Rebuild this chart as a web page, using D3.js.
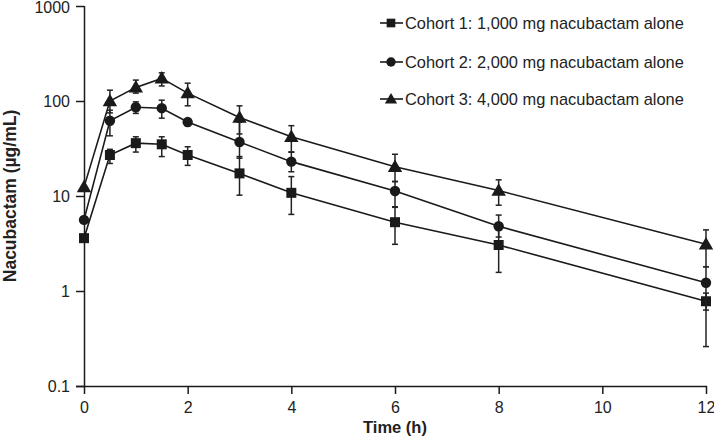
<!DOCTYPE html>
<html><head><meta charset="utf-8">
<script src="https://cdn.jsdelivr.net/npm/d3@7"></script>
<style>body{margin:0;background:#fff}svg{display:block;font-family:"Liberation Sans",Arial,Helvetica,sans-serif}</style>
</head><body><svg id="c" width="714" height="438"></svg>
<script>
const times = [0, 0.5, 1, 1.5, 2, 3, 4, 6, 8, 12];
const seriesNames = ["Cohort 1: 1,000 mg nacubactam alone", "Cohort 2: 2,000 mg nacubactam alone", "Cohort 3: 4,000 mg nacubactam alone"];
const cohort1 = [3.6, 27, 36, 35, 27, 17.3, 10.8, 5.3, 3.05, 0.78];
const cohort1Lo = [3.6, 22, 29, 26, 21, 10.2, 6.4, 3.1, 1.57, 0.26];
const cohort1Hi = [3.6, 31, 42, 42, 33, 26, 16, 7.6, 4.4, 0.95];
const cohort2 = [5.6, 62, 86, 84, 60, 37, 23, 11.3, 4.8, 1.22];
const cohort2Lo = [5.6, 43, 74, 66, 55, 25, 18, 7.7, 3.7, 0.63];
const cohort2Hi = [5.6, 80, 98, 102, 65, 60, 29, 14.2, 6.3, 1.8];
const cohort3 = [12.4, 100, 139, 173, 121, 67, 42, 20.3, 11.4, 3.1];
const cohort3Lo = [12.4, 75, 121, 144, 89, 45, 29, 14.2, 8.0, 1.8];
const cohort3Hi = [12.4, 130, 166, 198, 154, 89, 55, 27.5, 14.8, 4.4];
const xTicks = [0, 2, 4, 6, 8, 10, 12];
const yTicks = [0.1, 1, 10, 100, 1000];
const yTickLabels = ["0.1", "1", "10", "100", "1000"];
const symbols = [d3.symbolSquare, d3.symbolCircle, d3.symbolTriangle];

const svg = d3.select("#c");
const x = d3.scaleLinear().domain([0, 12]).range([84, 706]);
const y = d3.scaleLog().domain([0.1, 1000]).range([386, 6]);
const ink = "#1a1a1a";

const series = [
  {v: cohort1, lo: cohort1Lo, hi: cohort1Hi},
  {v: cohort2, lo: cohort2Lo, hi: cohort2Hi},
  {v: cohort3, lo: cohort3Lo, hi: cohort3Hi}
];

// axes
const xAxis = d3.axisBottom(x).tickValues(xTicks).tickSize(8).tickPadding(8).tickFormat(d3.format("d"));
const gx = svg.append("g").attr("transform", "translate(0,386)").call(xAxis);
gx.select(".domain").attr("d", "M76,0.5H707").attr("stroke", ink).attr("stroke-width", 1.5);
gx.selectAll(".tick line").attr("stroke", ink).attr("stroke-width", 1.5);
gx.selectAll(".tick text").attr("font-size", 16).attr("fill", "#222");

const yAxis = d3.axisLeft(y).tickValues(yTicks).tickSize(8).tickPadding(6).tickFormat((d, i) => yTickLabels[i]);
const gy = svg.append("g").attr("transform", "translate(84,0)").call(yAxis);
gy.select(".domain").attr("d", "M0.5,6V386").attr("stroke", ink).attr("stroke-width", 1.5);
gy.selectAll(".tick line").attr("stroke", ink).attr("stroke-width", 1.5);
gy.selectAll(".tick text").attr("font-size", 16).attr("fill", "#222")
  .attr("dy", (d) => (d === 1000 ? "0.42em" : "0.32em"));

svg.append("text").attr("x", 395).attr("y", 433).attr("text-anchor", "middle")
  .attr("font-size", 16.5).attr("font-weight", "bold").attr("fill", "#222").text("Time (h)");
svg.append("text").attr("transform", "translate(16,196) rotate(-90)").attr("text-anchor", "middle")
  .attr("font-size", 17.5).attr("font-weight", "bold").attr("fill", "#222").text("Nacubactam (µg/mL)");

const line = d3.line().x((d) => x(d[0])).y((d) => y(d[1]));

series.forEach((s, k) => {
  const g = svg.append("g");
  const pts = times.map((t, i) => [t, s.v[i]]);
  g.append("path").attr("d", line(pts)).attr("fill", "none").attr("stroke", ink).attr("stroke-width", 1.6);
  times.forEach((t, i) => {
    if (s.hi[i] !== s.lo[i]) {
      const cx = x(t);
      g.append("line").attr("x1", cx).attr("x2", cx).attr("y1", y(s.lo[i])).attr("y2", y(s.hi[i])).attr("stroke", "#222").attr("stroke-width", 1.5);
      [s.lo[i], s.hi[i]].forEach((v) => {
        g.append("line").attr("x1", cx - 3).attr("x2", cx + 3).attr("y1", y(v)).attr("y2", y(v)).attr("stroke", "#222").attr("stroke-width", 1.5);
      });
    }
  });
  const sizes = [100, 85, 90];
  g.selectAll("path.m").data(pts).join("path").attr("class", "m")
    .attr("transform", (d) => `translate(${x(d[0])},${y(d[1]) + (k === 2 ? 1 : 0)})`)
    .attr("d", d3.symbol().type(symbols[k]).size(sizes[k])).attr("fill", ink);
});

// legend
const legY = [23, 62, 99];
const lg = svg.append("g");
seriesNames.forEach((name, k) => {
  lg.append("line").attr("x1", 380).attr("x2", 403).attr("y1", legY[k]).attr("y2", legY[k]).attr("stroke", ink).attr("stroke-width", 1.6);
  lg.append("path").attr("transform", `translate(391,${legY[k] + (k === 2 ? 1 : 0)})`)
    .attr("d", d3.symbol().type(symbols[k]).size([75, 70, 65][k])).attr("fill", ink);
  lg.append("text").attr("x", 405).attr("y", legY[k] + 6).attr("font-size", 16.4).attr("fill", "#222").text(name);
});
</script></body></html>
